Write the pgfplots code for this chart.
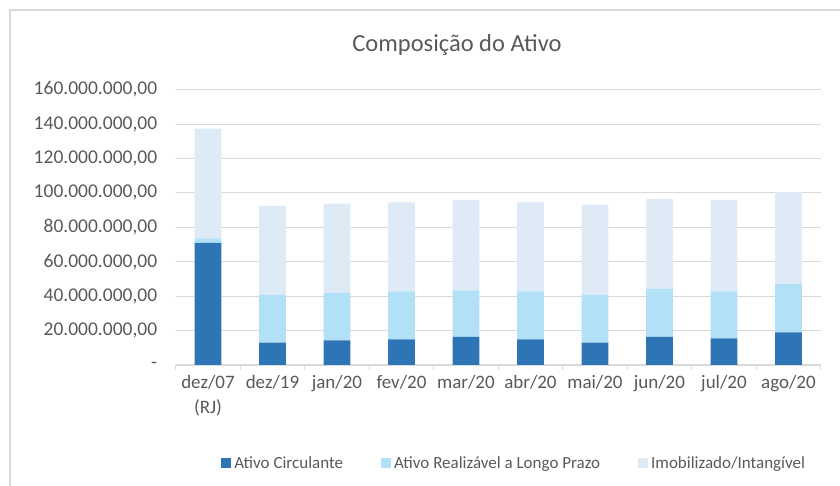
\documentclass[border=0pt]{standalone}
\usepackage{pgfplots}
\pgfplotsset{compat=1.18}
\usepackage{fontspec}
\setmainfont{Carlito}
\definecolor{txt}{HTML}{595959}
\definecolor{grd}{HTML}{D9D9D9}
\definecolor{cA}{HTML}{2E75B6}
\definecolor{cB}{HTML}{B2E0F7}
\definecolor{cC}{HTML}{DEEAF6}
\begin{document}
\begin{tikzpicture}
\begin{axis}[
  at={(0pt,0pt)}, anchor=south west,
  scale only axis, width=645pt, height=275.4pt,
  ybar stacked, bar width=26.7pt,
  xmin=-0.5, xmax=9.5, ymin=0, ymax=160,
  xtick={0,...,9},
  xticklabels={{dez/07\\(RJ)},dez/19,jan/20,fev/20,mar/20,abr/20,mai/20,jun/20,jul/20,ago/20},
  minor xtick={-0.5,0.5,...,9.5},
  ytick={0,20,...,160},
  yticklabels={{-\hspace{9pt}},{20.000.000,00},{40.000.000,00},{60.000.000,00},{80.000.000,00},{100.000.000,00},{120.000.000,00},{140.000.000,00},{160.000.000,00}},
  axis x line*=bottom, axis y line*=left,
  x axis line style={draw=grd, line width=1.2pt, -},
  y axis line style={draw=none},
  major tick length=0pt, minor tick length=5pt,
  tick align=outside,
  minor tick style={draw=grd, line width=1pt},
  ymajorgrids, major grid style={draw=grd, line width=1pt},
  xticklabel style={align=center, text=txt, font=\fontsize{19}{25}\selectfont, yshift=-7pt},
  yticklabel style={text=txt, font=\fontsize{19.5}{24}\selectfont, xshift=-15pt},
  legend columns=3,
  legend style={at={(0.524,-0.356)}, anchor=center, draw=none, fill=none,
    font=\fontsize{17}{20}\selectfont, text=txt,
    /tikz/every even column/.append style={column sep=36pt},
    nodes={inner sep=1.5pt}},
  legend image code/.code={\fill[#1] (0pt,-5pt) rectangle (10pt,5pt);},
]
\addplot[fill=cA, draw=none] coordinates {(0,70.9) (1,13.0) (2,14.3) (3,14.9) (4,16.3) (5,14.9) (6,13.0) (7,16.3) (8,15.5) (9,19.0)};
\addlegendentry{\hspace{2pt}Ativo Circulante}
\addplot[fill=cB, draw=none] coordinates {(0,2.7) (1,27.7) (2,27.7) (3,27.9) (4,27.1) (5,27.9) (6,27.7) (7,27.9) (8,27.3) (9,28.1)};
\addlegendentry{\hspace{2pt}Ativo Realizável a Longo Prazo}
\addplot[fill=cC, draw=none] coordinates {(0,63.7) (1,51.7) (2,51.7) (3,51.7) (4,52.5) (5,51.7) (6,52.5) (7,52.3) (8,53.1) (9,53.4)};
\addlegendentry{\hspace{2pt}Imobilizado/Intangível}
\end{axis}
\node[text=txt, font=\fontsize{24.5}{28}\selectfont] at (281.3pt,320pt) {Composição do Ativo};
\draw[grd, line width=2pt] (-165.2pt,-130pt) -- (-165.2pt,354.5pt) -- (680pt,354.5pt);
\pgfresetboundingbox
\path[use as bounding box] (-175.7pt,-121pt) rectangle (664.3pt,365pt);
\end{tikzpicture}
\end{document}
